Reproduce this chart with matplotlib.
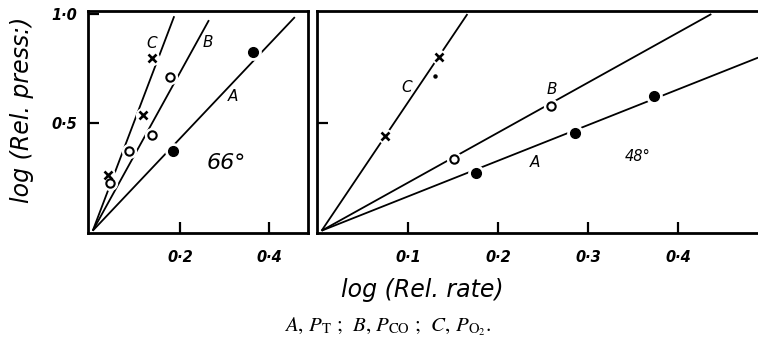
import matplotlib
matplotlib.use("Agg")
import matplotlib.pyplot as plt

# ---------------- data ----------------
# Left panel, 66 deg
l_A_x = [0.184, 0.364]
l_A_y = [0.373, 0.826]
l_B_x = [0.043, 0.086, 0.137, 0.178]
l_B_y = [0.225, 0.370, 0.445, 0.710]
l_C_x = [0.038, 0.117, 0.137]
l_C_y = [0.260, 0.537, 0.800]
l_line_end_x = {"A": 0.458, "B": 0.265, "C": 0.187}
l_line_end_y = {"A": 0.986, "B": 0.972, "C": 0.990}

# Right panel, 48 deg
r_A_x = [0.176, 0.286, 0.373]
r_A_y = [0.271, 0.454, 0.624]
r_B_x = [0.151, 0.259]
r_B_y = [0.335, 0.578]
r_C_x = [0.074, 0.134]
r_C_y = [0.440, 0.803]
r_dot_x = [0.130]
r_dot_y = [0.716]
r_line_end_x = {"A": 0.489, "B": 0.437, "C": 0.166}
r_line_end_y = {"A": 0.800, "B": 1.000, "C": 1.000}

line_start = (0.004, 0.006)

left_xticks = [0.2, 0.4]
left_xticklabels = ["0·2", "0·4"]
left_yticks = [0.5, 1.0]
left_yticklabels = ["0·5", "1·0"]
right_xticks = [0.1, 0.2, 0.3, 0.4]
right_xticklabels = ["0·1", "0·2", "0·3", "0·4"]
right_yticks = [0.5]

# ---------------- figure ----------------
plt.rcParams["mathtext.fontset"] = "stix"
fig = plt.figure(figsize=(7.58, 3.44), dpi=100)

axL = fig.add_axes([88/758, (344-233)/344, 220/758, 222/344])
axR = fig.add_axes([317/758, (344-233)/344, 441/758, 222/344])

tickfont = dict(family="DejaVu Sans", style="italic", weight="bold", size=10.5)
lw = 1.3


def draw_panel(ax, A, B, C, ends_x, ends_y):
    for key in ["A", "B", "C"]:
        ax.plot([line_start[0], ends_x[key]], [line_start[1], ends_y[key]],
                color="black", lw=lw, zorder=2, solid_capstyle="butt")
    # white halos to break the lines around the points
    for xs, ys, ms in [(A[0], A[1], 11), (B[0], B[1], 10), (C[0], C[1], 10)]:
        ax.plot(xs, ys, "o", ms=ms, color="white", mec="white", zorder=3)
    ax.plot(A[0], A[1], "o", ms=7, color="black", zorder=4)
    ax.plot(B[0], B[1], "o", ms=6, mfc="white", mec="black", mew=1.5, zorder=4)
    ax.plot(C[0], C[1], "x", ms=6, color="black", mew=1.9, zorder=4)


draw_panel(axL, (l_A_x, l_A_y), (l_B_x, l_B_y), (l_C_x, l_C_y), l_line_end_x, l_line_end_y)
draw_panel(axR, (r_A_x, r_A_y), (r_B_x, r_B_y), (r_C_x, r_C_y), r_line_end_x, r_line_end_y)
axR.plot(r_dot_x, r_dot_y, "o", ms=2.2, color="black", zorder=4)

# limits
axL.set_xlim(-0.0067, 0.4876)
axL.set_ylim(-0.0046, 1.014)
axR.set_xlim(-0.0011, 0.4889)
axR.set_ylim(-0.0046, 1.014)

for ax in (axL, axR):
    for s in ax.spines.values():
        s.set_linewidth(2.0)
    ax.tick_params(direction="in", length=8, width=1.6, top=False, right=False, pad=12)

axR.spines["right"].set_visible(False)

axL.set_xticks(left_xticks)
axL.set_xticklabels(left_xticklabels, **tickfont)
axL.set_yticks(left_yticks)
axL.set_yticklabels(left_yticklabels, **tickfont)
axL.tick_params(axis="y", pad=8)

axR.set_xticks(right_xticks)
axR.set_xticklabels(right_xticklabels, **tickfont)
axR.set_yticks(right_yticks)
axR.set_yticklabels([])

# in-panel labels
lab = dict(family="DejaVu Sans", style="italic", size=11, ha="center", va="center")
axL.text(0.137, 0.865, "C", **lab)
axL.text(0.262, 0.870, "B", **lab)
axL.text(0.319, 0.622, "A", **lab)
axL.text(0.305, 0.318, "66°", family="DejaVu Sans", style="italic", size=16,
         ha="center", va="center")

axR.text(0.098, 0.665, "C", **lab)
axR.text(0.260, 0.656, "B", **lab)
axR.text(0.241, 0.318, "A", **lab)
axR.text(0.355, 0.345, "48°", family="DejaVu Sans", style="italic", size=10.5,
         ha="center", va="center")

# axis labels
fig.text(422/758, 1 - 290/344, "log (Rel. rate)", family="DejaVu Sans", style="italic",
         size=17, ha="center", va="center")
fig.text(22/758, 1 - 110/344, "log (Rel. press:)", family="DejaVu Sans", style="italic",
         size=17, ha="center", va="center", rotation=90)

# caption
fig.text(388/758, 1 - 327/344,
         r"$A$, $P_{\mathrm{T}}$ ;  $B$, $P_{\mathrm{CO}}$ ;  $C$, $P_{\mathrm{O_2}}$.",
         family="STIXGeneral", size=15, ha="center", va="center")

fig.savefig("out.png", dpi=100)
